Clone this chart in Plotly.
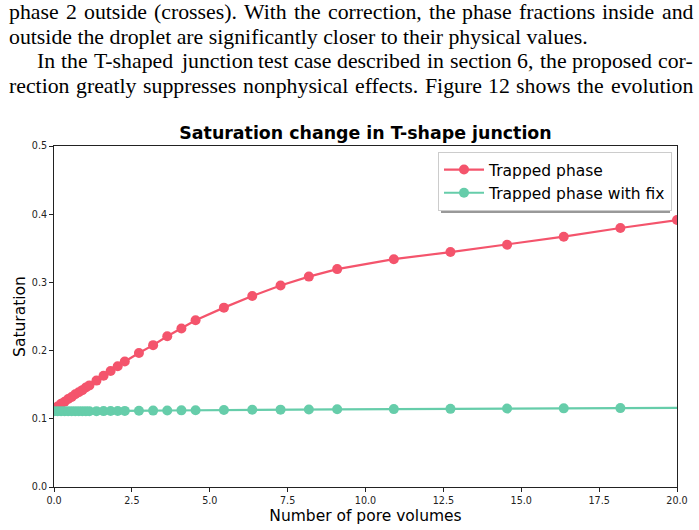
import plotly.graph_objects as go

# Data
pv_trapped = [0.0, 0.114, 0.227, 0.341, 0.455, 0.568, 0.682, 0.795, 0.909, 1.023, 1.136,
              1.364, 1.591, 1.818, 2.045, 2.273, 2.727, 3.182, 3.636, 4.091, 4.545,
              5.455, 6.364, 7.273, 8.182, 9.091, 10.909, 12.727, 14.545, 16.364, 18.182, 20.0, 21.818]
sat_trapped = [0.115, 0.118, 0.122, 0.125, 0.129, 0.132, 0.136, 0.139, 0.142, 0.146, 0.149,
               0.156, 0.163, 0.170, 0.177, 0.184, 0.1965, 0.208, 0.221, 0.2325, 0.2445,
               0.263, 0.280, 0.2955, 0.3085, 0.3195, 0.334, 0.3445, 0.3553, 0.367, 0.3798, 0.3915, 0.403]
pv_fix = [0.0, 0.114, 0.227, 0.341, 0.455, 0.568, 0.682, 0.795, 0.909, 1.023, 1.136,
          1.364, 1.591, 1.818, 2.045, 2.273, 2.727, 3.182, 3.636, 4.091, 4.545,
          5.455, 6.364, 7.273, 8.182, 9.091, 10.909, 12.727, 14.545, 16.364, 18.182, 21.818]
sat_fix = [0.111, 0.111, 0.111, 0.111, 0.111, 0.111, 0.111, 0.111, 0.111, 0.111, 0.111,
           0.1112, 0.1113, 0.1114, 0.1115, 0.1116, 0.1118, 0.112, 0.1122, 0.1124, 0.1126,
           0.113, 0.1132, 0.1134, 0.1136, 0.1139, 0.1142, 0.1146, 0.115, 0.1153, 0.1157, 0.1163]

x_ticks = [0.0, 2.5, 5.0, 7.5, 10.0, 12.5, 15.0, 17.5, 20.0]
y_ticks = [0.0, 0.1, 0.2, 0.3, 0.4, 0.5]

# (text, left px, vertical centre px, justified)
paragraph = [
    ("phase 2 outside (crosses).  With the correction, the phase fractions inside and", 7, 12, True),
    ("outside the droplet are significantly closer to their physical values.", 7, 37, False),
    ("In the T-shaped junction test case described in section 6, the proposed cor-", 35, 61, True),
    ("rection greatly suppresses nonphysical effects.  Figure 12 shows the evolution", 7, 86, True),
]
TEXT_RIGHT = 691
TEXT_SIZE = 21.8

RED = "#f4546c"
GREEN = "#66cdaa"

W, H = 699, 530
L, R, T, B = 54, 22, 146, 43
PW, PH = W - L - R, H - T - B


def px(x):
    return (x - L) / PW


def py(y):
    return (H - B - y) / PH


# Times / Liberation Serif advance widths (per 1000 em)
_TW = {' ': 250, '(': 333, ')': 333, ',': 250, '-': 333, '.': 250,
       'A': 722, 'B': 667, 'C': 667, 'D': 722, 'E': 611, 'F': 556, 'G': 722, 'H': 722, 'I': 333,
       'J': 389, 'K': 722, 'L': 611, 'M': 889, 'N': 722, 'O': 722, 'P': 556, 'Q': 722, 'R': 667,
       'S': 556, 'T': 611, 'U': 722, 'V': 722, 'W': 944, 'X': 722, 'Y': 722, 'Z': 611,
       'a': 444, 'b': 500, 'c': 444, 'd': 500, 'e': 444, 'f': 333, 'g': 500, 'h': 500, 'i': 278,
       'j': 278, 'k': 500, 'l': 278, 'm': 778, 'n': 500, 'o': 500, 'p': 500, 'q': 500, 'r': 333,
       's': 389, 't': 278, 'u': 500, 'v': 500, 'w': 722, 'x': 500, 'y': 500, 'z': 444}


def text_width(s, size):
    return sum(_TW.get(c, 500) for c in s) * size / 1000.0


annotations = []
for text, x0, yc, justify in paragraph:
    font = dict(family="Liberation Serif", size=TEXT_SIZE, color="black")
    if not justify:
        annotations.append(dict(text=text, xref="paper", yref="paper", x=px(x0), y=py(yc),
                                xanchor="left", yanchor="middle", showarrow=False, font=font))
        continue
    words = text.split()
    widths = [text_width(w, TEXT_SIZE) for w in words]
    gap = (TEXT_RIGHT - x0 - sum(widths)) / (len(words) - 1)
    x = x0
    for w, wd in zip(words, widths):
        annotations.append(dict(text=w, xref="paper", yref="paper", x=px(x), y=py(yc),
                                xanchor="left", yanchor="middle", showarrow=False, font=font))
        x += wd + gap

fig = go.Figure()
fig.add_trace(go.Scatter(x=pv_trapped, y=sat_trapped, mode="lines+markers", name="Trapped phase",
                         line=dict(color=RED, width=2.2), marker=dict(color=RED, size=10),
                         cliponaxis=True))
fig.add_trace(go.Scatter(x=pv_fix, y=sat_fix, mode="lines+markers", name="Trapped phase with fix",
                         line=dict(color=GREEN, width=2.2), marker=dict(color=GREEN, size=10),
                         cliponaxis=True))

fig.update_layout(
    width=W, height=H,
    margin=dict(l=L, r=R, t=T, b=B, autoexpand=False),
    paper_bgcolor="white", plot_bgcolor="white",
    font=dict(family="DejaVu Sans", color="black"),
    title=dict(text="<b>Saturation change in T-shape junction</b>", x=(L + PW / 2) / W, xanchor="center",
               y=(H - 133) / H, yanchor="middle", font=dict(size=17.4, family="DejaVu Sans")),
    xaxis=dict(range=[0, 20], tickvals=x_ticks, ticktext=[f"{v:.1f}" for v in x_ticks],
               showgrid=False, zeroline=False, showline=True, linecolor="#222", linewidth=1,
               mirror=True, ticks="outside", ticklen=4, tickcolor="#222", automargin=False,
               tickfont=dict(size=9.6, color="#222"),
               title=dict(text="Number of pore volumes", font=dict(size=15.5), standoff=5)),
    yaxis=dict(range=[0, 0.5], tickvals=y_ticks, ticktext=[f"{v:.1f}" for v in y_ticks],
               showgrid=False, zeroline=False, showline=True, linecolor="#222", linewidth=1,
               mirror=True, ticks="outside", ticklen=4, tickcolor="#222", automargin=False,
               tickfont=dict(size=9.6, color="#222"),
               title=dict(text="Saturation", font=dict(size=15.5), standoff=2)),
    legend=dict(x=px(438), y=py(152), xanchor="left", yanchor="top", bgcolor="white",
                bordercolor="#cccccc", borderwidth=1, font=dict(size=15.5), itemwidth=40,
                tracegroupgap=0),
    annotations=annotations,
    shapes=[dict(type="rect", xref="paper", yref="paper", x0=px(441), x1=px(670), y0=py(213), y1=py(156),
                 fillcolor="#999999", line=dict(width=0), layer="above")],
)

fig.write_html("out.html")
